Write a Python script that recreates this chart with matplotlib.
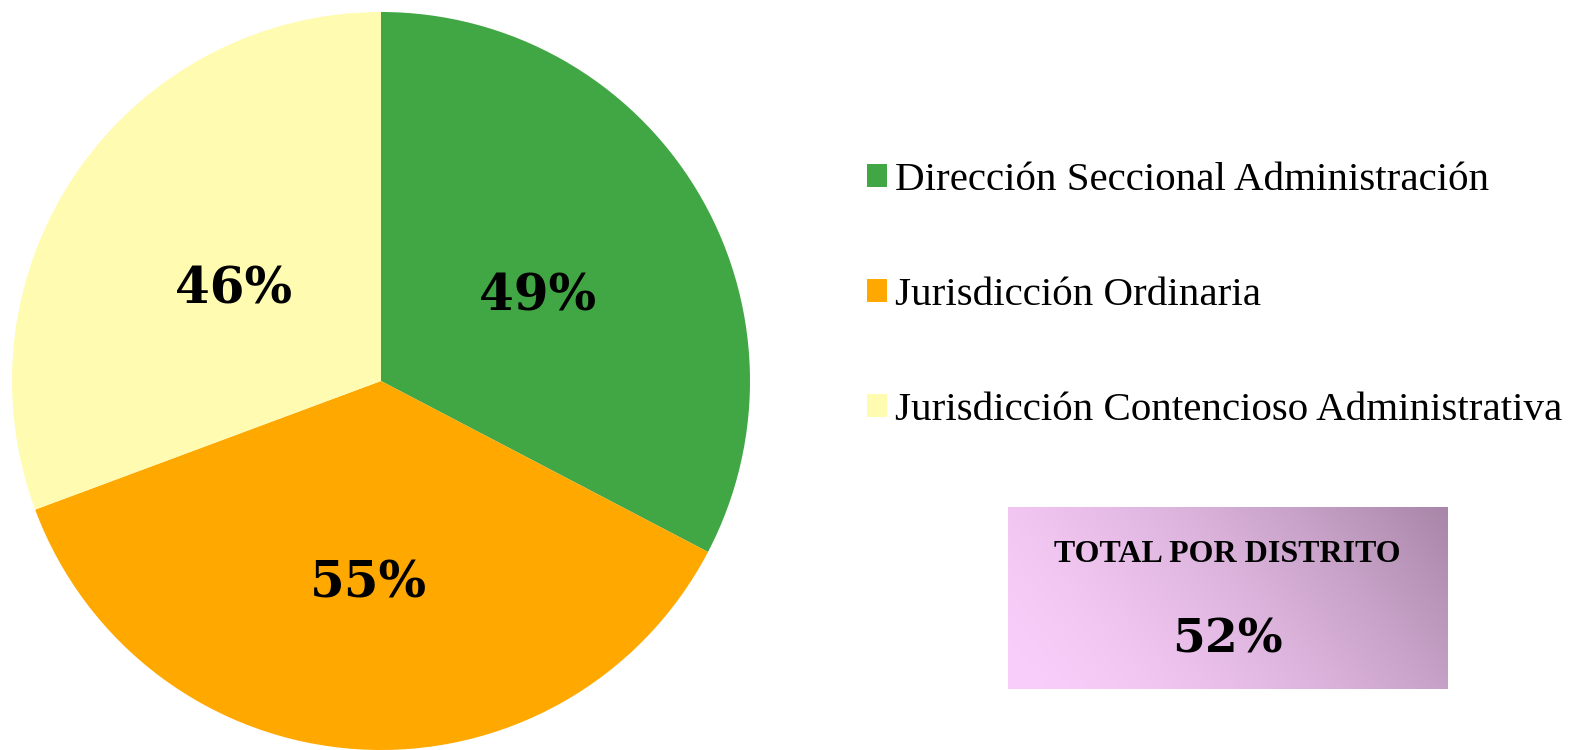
import matplotlib
matplotlib.use("Agg")
import matplotlib.pyplot as plt
import numpy as np

# data
categories = ["Dirección Seccional Administración",
              "Jurisdicción Ordinaria",
              "Jurisdicción Contencioso Administrativa"]
values = [49, 55, 46]
colors = ["#41A745", "#FFA800", "#FFFBB0"]
total_label = "TOTAL POR DISTRITO"
total_value = 52

W, H = 1572, 750
fig = plt.figure(figsize=(W / 100, H / 100), dpi=100)

# pie axes: centre (381, 381) px, radius 369 px
cx, cy, r = 381, 381, 369
ax = fig.add_axes([(cx - r) / W, (H - cy - r) / H, 2 * r / W, 2 * r / H])
wedges, _ = ax.pie(values, colors=colors, startangle=90, counterclock=False,
                   radius=1.0, wedgeprops=dict(linewidth=0))
ax.set_xlim(-1, 1)
ax.set_ylim(-1, 1)
ax.set_aspect("equal")

# value labels (Excel places them at roughly half radius)
label_r = [0.48, 0.55, 0.47]
label_shift = [-3, 0, 3]  # degrees
for w, v, lr, sh in zip(wedges, values, label_r, label_shift):
    ang = np.deg2rad((w.theta1 + w.theta2) / 2 + sh)
    ax.text(lr * np.cos(ang), lr * np.sin(ang), f"{v}%", ha="center", va="center",
            fontsize=36, fontweight="bold", family="DejaVu Serif")

# legend
leg = fig.legend(wedges, categories, loc="upper left",
                 bbox_to_anchor=(867 / W, 1 - 162 / H),
                 frameon=False, prop={"family": "Liberation Serif", "size": 29.5},
                 handlelength=0.49, handleheight=0.49, handletextpad=0.2,
                 labelspacing=1.9, borderpad=0, borderaxespad=0)

# total box with diagonal gradient
bx0, bx1, by0, by1 = 1008, 1447, 507, 689
bax = fig.add_axes([bx0 / W, (H - by1) / H, (bx1 - bx0) / W, (by1 - by0) / H])
gx, gy = np.meshgrid(np.linspace(0, 1, 200), np.linspace(0, 1, 100))
t = (gx * 0.75 + gy * 0.25)
c0 = np.array([250, 206, 250]) / 255
c1 = np.array([168, 134, 168]) / 255
img = c0[None, None, :] + (c1 - c0)[None, None, :] * (t[..., None] ** 1.6)
bax.imshow(img, origin="lower", extent=[0, 1, 0, 1], aspect="auto")
bax.set_xlim(0, 1)
bax.set_ylim(0, 1)
bax.axis("off")
bax.text(0.5, 0.74, total_label, ha="center", va="center",
         fontsize=23, fontweight="bold", family="Liberation Serif")
bax.text(0.5, 0.27, f"{total_value}%", ha="center", va="center",
         fontsize=34, fontweight="bold", family="DejaVu Serif")

fig.savefig("out.png", dpi=100)
